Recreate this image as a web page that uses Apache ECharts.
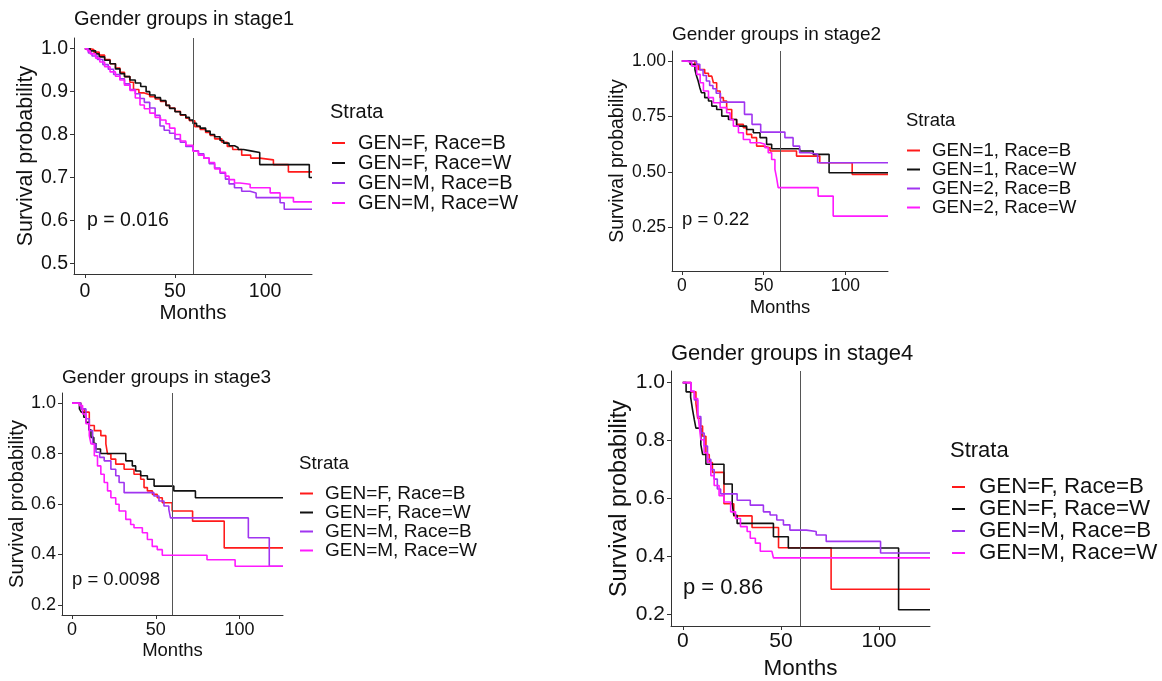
<!DOCTYPE html>
<html>
<head>
<meta charset="utf-8">
<script src="https://cdn.jsdelivr.net/npm/echarts@6/dist/echarts.min.js"></script>
<style>
  html, body { margin: 0; padding: 0; background: #fff; }
  #km { width: 1162px; height: 681px; }
</style>
</head>
<body>
<div id="km"></div>
<script>
// tick values
const xTicks = [0, 50, 100];
const yTicks1 = [0.5, 0.6, 0.7, 0.8, 0.9, 1.0];
const yTicks2 = [0.25, 0.5, 0.75, 1.0];
const yTicks3 = [0.2, 0.4, 0.6, 0.8, 1.0];
const yTicks4 = [0.2, 0.4, 0.6, 0.8, 1.0];

const strataFM = ['GEN=F, Race=B', 'GEN=F, Race=W', 'GEN=M, Race=B', 'GEN=M, Race=W'];
const strata12 = ['GEN=1, Race=B', 'GEN=1, Race=W', 'GEN=2, Race=B', 'GEN=2, Race=W'];
const panelTitles = ['Gender groups in stage1', 'Gender groups in stage2', 'Gender groups in stage3', 'Gender groups in stage4'];
const pValues = ['p = 0.016', 'p = 0.22', 'p = 0.0098', 'p = 0.86'];
const cutoffMonth = 60;

// [months, survival] — stage 1
const s1FB = [[0,1],[3,0.998],[5,0.992],[8,0.985],[11,0.975],[14,0.965],[17,0.955],[19.5,0.945],[22,0.935],[25,0.922],[27,0.905],[30,0.897],[33,0.893],[36,0.888],[39,0.883],[42,0.877],[45,0.868],[47,0.862],[50,0.854],[53,0.845],[56,0.838],[58,0.832],[61,0.818],[64,0.812],[67,0.805],[69.5,0.798],[72,0.79],[76,0.782],[79,0.772],[82,0.765],[87,0.752],[92,0.745],[97,0.741],[104.6,0.73],[112.9,0.713],[126,0.713]];
const s1FW = [[0,1],[3,0.995],[6,0.988],[8,0.981],[11,0.973],[14,0.965],[17,0.953],[19.5,0.942],[22,0.935],[25,0.927],[28,0.92],[31,0.912],[34,0.9],[36,0.892],[39,0.886],[42,0.879],[45,0.868],[47,0.861],[50,0.853],[53,0.846],[56,0.84],[58,0.834],[60,0.826],[62,0.82],[64,0.815],[67,0.808],[69.5,0.8],[72,0.795],[75,0.786],[77,0.78],[80,0.774],[83,0.77],[85,0.765],[88,0.762],[92,0.758],[97,0.73],[124.5,0.70],[126,0.70]];
const s1MB = [[0,1],[2,0.99],[4,0.983],[7,0.975],[10,0.963],[13,0.952],[16,0.94],[19.4,0.93],[22,0.918],[25,0.905],[28,0.895],[30.6,0.884],[33,0.875],[36,0.862],[39,0.845],[41.7,0.82],[44,0.81],[47,0.803],[50,0.79],[53,0.782],[56,0.772],[60,0.762],[63,0.755],[66,0.745],[69,0.732],[72,0.722],[75,0.71],[78,0.696],[80,0.685],[83,0.676],[87,0.668],[91.7,0.664],[95,0.653],[108.3,0.641],[110.6,0.626],[126,0.626]];
const s1MW = [[0,1],[1.5,0.995],[3,0.988],[6,0.978],[8.3,0.969],[11,0.958],[14,0.946],[17,0.936],[19.4,0.927],[22,0.915],[25,0.903],[28,0.885],[30.6,0.869],[33,0.86],[36,0.85],[39,0.84],[42,0.834],[45,0.825],[47,0.815],[50,0.8],[53,0.785],[56,0.775],[60,0.761],[63,0.752],[66,0.745],[69,0.735],[72,0.72],[75,0.712],[78,0.703],[80,0.695],[83,0.687],[86,0.684],[91.7,0.676],[102.8,0.664],[108.3,0.653],[115.7,0.643],[126,0.643]];

// stage 2
const s2_1B = [[0,1],[8,0.985],[10,0.962],[14,0.945],[16.3,0.932],[18.3,0.925],[19.3,0.902],[21.3,0.865],[23.4,0.835],[25.4,0.82],[27.4,0.782],[30.5,0.737],[33.5,0.715],[37.6,0.70],[39.6,0.67],[42.7,0.655],[45.7,0.617],[49.8,0.61],[53.9,0.595],[70.1,0.572],[84.3,0.542],[104.1,0.49],[126,0.49]];
const s2_1W = [[0,1],[5,0.985],[8,0.962],[9,0.932],[10,0.91],[11,0.88],[12,0.857],[14,0.835],[16.3,0.82],[18.3,0.797],[21.3,0.782],[24.4,0.752],[28.5,0.737],[33.5,0.707],[39.6,0.692],[43.7,0.677],[47.8,0.655],[51.8,0.625],[54.9,0.605],[72,0.595],[80.3,0.58],[90,0.497],[126,0.497]];
const s2_2B = [[0,1],[9,0.985],[11,0.96],[13,0.935],[15,0.91],[17,0.89],[19,0.875],[21,0.855],[23.6,0.815],[38.3,0.76],[42.9,0.715],[48.2,0.68],[63,0.655],[68,0.617],[72,0.587],[78,0.58],[83,0.542],[126,0.542]];
const s2_2W = [[0,1],[3,0.992],[6.1,0.977],[9.1,0.94],[11.2,0.902],[13.2,0.865],[16.3,0.835],[19.3,0.812],[23.4,0.79],[27.4,0.767],[29.5,0.737],[31.5,0.707],[34.6,0.677],[37.6,0.647],[41.7,0.632],[47.8,0.625],[50.8,0.61],[52.8,0.587],[54.9,0.557],[56.9,0.512],[57.9,0.475],[58.9,0.43],[83.3,0.392],[92.5,0.302],[126,0.302]];

// stage 3
const s3FB = [[0,1],[5.3,0.977],[7.3,0.964],[10.3,0.911],[13.3,0.891],[17.2,0.871],[20.2,0.838],[21.2,0.798],[23.2,0.778],[26.1,0.758],[31.1,0.738],[37,0.718],[41,0.698],[43,0.665],[45,0.652],[48,0.638],[50.9,0.625],[53.9,0.605],[59.8,0.572],[72,0.532],[90.9,0.426],[126,0.426]];
const s3FW = [[0,1],[4.4,0.977],[5.5,0.964],[7,0.944],[8.3,0.924],[10,0.894],[11.3,0.864],[13,0.84],[14.3,0.818],[17,0.80],[32.1,0.771],[36,0.751],[38,0.731],[41,0.712],[45,0.698],[49,0.671],[60.8,0.652],[73.7,0.625],[126,0.625]];
const s3MB = [[0,1],[5.3,0.977],[8.3,0.938],[10.3,0.891],[12.3,0.838],[14.3,0.805],[16.5,0.785],[19.2,0.771],[23.2,0.738],[26.1,0.712],[28.1,0.685],[31.1,0.645],[48.9,0.632],[51.9,0.612],[54.9,0.592],[57.8,0.579],[58.8,0.545],[105.3,0.466],[117.8,0.353],[126,0.353]];
const s3MW = [[0,1],[4.4,0.99],[6.3,0.957],[8.3,0.918],[10.3,0.871],[11.3,0.838],[13.3,0.791],[15.2,0.751],[17.2,0.718],[19.2,0.685],[21.2,0.652],[23.2,0.625],[26.1,0.599],[28.1,0.572],[32.1,0.539],[35,0.519],[37,0.506],[42,0.486],[45,0.459],[47.9,0.432],[50.9,0.419],[53.9,0.397],[80.6,0.379],[97.4,0.353],[126,0.353]];

// stage 4
const s4FB = [[0,1],[4.2,0.968],[6.7,0.928],[7.6,0.877],[9,0.85],[10.1,0.815],[11.8,0.752],[13.5,0.724],[15.1,0.69],[21,0.582],[26,0.54],[35.3,0.50],[48.8,0.43],[75.6,0.287],[126,0.287]];
const s4FW = [[0,1],[1.7,0.968],[4,0.95],[5,0.906],[5.9,0.871],[6.7,0.843],[9.2,0.786],[10.1,0.752],[11.8,0.718],[21,0.65],[25.2,0.582],[26,0.542],[27.7,0.514],[46.2,0.468],[53.8,0.429],[110,0.216],[126,0.216]];
const s4MB = [[0,1],[4.2,0.97],[5.9,0.94],[7.6,0.883],[9.2,0.826],[10.9,0.781],[12.6,0.735],[14.3,0.70],[16,0.667],[17.6,0.633],[19.3,0.616],[27.7,0.594],[34.4,0.577],[41.1,0.554],[44.5,0.543],[47.9,0.526],[51.3,0.509],[54.6,0.491],[63,0.486],[68,0.474],[73.1,0.452],[100.8,0.412],[126,0.412]];
const s4MW = [[0,1],[4.2,0.97],[5.9,0.945],[7.6,0.9],[8.4,0.85],[9.2,0.803],[10.9,0.758],[12.6,0.724],[14.3,0.679],[16,0.645],[18.5,0.61],[21,0.588],[24.4,0.554],[26.9,0.531],[29.4,0.503],[32.8,0.486],[34.4,0.463],[37,0.446],[39.5,0.418],[45.4,0.412],[46.2,0.395],[126,0.395]];

const FONT = '"Liberation Sans", Arial, sans-serif';
const TXT = '#111';
const colors = ['#ff1a1a', '#111111', '#a035f0', '#ff1aff'];

// layout of each panel (pixels)
let panels = [
  { grid: { left: 74, top: 38, width: 238, height: 236 }, yMin: 0.475, yMax: 1.025, yTicks: yTicks1, dec: 1,
    fs: 19.5, xNameFs: 20.5, yNameFs: 21.5, titleFs: 20, titleTop: 9, nameGapY: 36, nameGapX: 29, labMarginX: 8,
    p: { left: 87, top: 211, fs: 19.5 }, strata: strataFM, data: [s1FB, s1FW, s1MB, s1MW],
    legend: { left: 332, top: 133, fs: 20, lh: 20, pad: 8 }, strataTitle: { left: 330, top: 102, fs: 20 } },
  { grid: { left: 672, top: 51, width: 216, height: 220 }, yMin: 0.055, yMax: 1.045, yTicks: yTicks2, dec: 2,
    fs: 17.5, xNameFs: 18.5, yNameFs: 19.5, titleFs: 19, titleTop: 25, nameGapY: 44, nameGapX: 27, labMarginX: 6,
    p: { left: 682, top: 210, fs: 18.5 }, strata: strata12, data: [s2_1B, s2_1W, s2_2B, s2_2W],
    legend: { left: 907, top: 141, fs: 18.7, lh: 18, pad: 7 }, strataTitle: { left: 906, top: 111, fs: 18.5 } },
  { grid: { left: 62, top: 393, width: 221, height: 222 }, yMin: 0.16, yMax: 1.04, yTicks: yTicks3, dec: 1,
    fs: 18, xNameFs: 18.5, yNameFs: 20, titleFs: 19, titleTop: 368, nameGapY: 33, nameGapX: 26, labMarginX: 6,
    p: { left: 72, top: 570, fs: 18.5 }, strata: strataFM, data: [s3FB, s3FW, s3MB, s3MW],
    legend: { left: 300, top: 484, fs: 19, lh: 18, pad: 7 }, strataTitle: { left: 299, top: 454, fs: 18.7 } },
  { grid: { left: 671, top: 371, width: 259, height: 256 }, yMin: 0.16, yMax: 1.04, yTicks: yTicks4, dec: 1,
    fs: 21, xNameFs: 22.5, yNameFs: 23.5, titleFs: 22, titleTop: 343, nameGapY: 37, nameGapX: 31, labMarginX: 5,
    p: { left: 683, top: 577, fs: 22 }, strata: strataFM, data: [s4FB, s4FW, s4MB, s4MW],
    legend: { left: 952, top: 476, fs: 22.3, lh: 21, pad: 9 }, strataTitle: { left: 950, top: 440, fs: 22 } }
];

let chart = echarts.init(document.getElementById('km'), null, { renderer: 'canvas' });

let grid = [], xAxis = [], yAxis = [], series = [], title = [], legend = [];
panels.forEach((pn, i) => {
  grid.push(pn.grid);
  xAxis.push({
    gridIndex: i, type: 'value', min: -6, max: 126,
    name: 'Months', nameLocation: 'middle', nameGap: pn.nameGapX,
    nameTextStyle: { fontSize: pn.xNameFs, color: TXT, fontFamily: FONT },
    axisLine: { show: true, onZero: false, lineStyle: { color: '#333', width: 1 } },
    axisTick: { show: true, length: 4, customValues: xTicks, lineStyle: { color: '#333' } },
    axisLabel: { customValues: xTicks, margin: pn.labMarginX, fontSize: pn.fs, color: TXT, fontFamily: FONT },
    splitLine: { show: false }
  });
  yAxis.push({
    gridIndex: i, type: 'value', min: pn.yMin, max: pn.yMax,
    name: 'Survival probability', nameLocation: 'middle', nameGap: pn.nameGapY,
    nameTextStyle: { fontSize: pn.yNameFs, color: TXT, fontFamily: FONT },
    axisLine: { show: true, onZero: false, lineStyle: { color: '#333', width: 1 } },
    axisTick: { show: true, length: 4, customValues: pn.yTicks, lineStyle: { color: '#333' } },
    axisLabel: { customValues: pn.yTicks, margin: 6, fontSize: pn.fs, color: TXT, fontFamily: FONT,
      formatter: v => v.toFixed(pn.dec) },
    splitLine: { show: false }
  });
  pn.data.forEach((d, k) => {
    let s = {
      name: pn.strata[k], type: 'line', step: 'end', data: d,
      xAxisIndex: i, yAxisIndex: i, showSymbol: false, symbol: 'none',
      color: colors[k], lineStyle: { width: 1.6, color: colors[k] },
      z: 3 + k, animation: false
    };
    if (k === 0) {
      s.markLine = {
        silent: true, symbol: 'none', label: { show: false },
        lineStyle: { color: '#555', width: 1, type: 'solid' },
        data: [{ xAxis: cutoffMonth }]
      };
    }
    series.push(s);
  });
  title.push({ text: panelTitles[i], left: pn.grid.left, top: pn.titleTop, padding: 0,
    textStyle: { fontSize: pn.titleFs, fontWeight: 'normal', color: TXT, fontFamily: FONT } });
  title.push({ text: pValues[i], left: pn.p.left, top: pn.p.top, padding: 0,
    textStyle: { fontSize: pn.p.fs, fontWeight: 'normal', color: TXT, fontFamily: FONT } });
  title.push({ text: 'Strata', left: pn.strataTitle.left, top: pn.strataTitle.top, padding: 0,
    textStyle: { fontSize: pn.strataTitle.fs, fontWeight: 'normal', color: TXT, fontFamily: FONT } });
  legend.push({
    data: pn.strata, orient: 'vertical', left: pn.legend.left, top: pn.legend.top,
    padding: 0, itemGap: 0, icon: 'rect', itemWidth: 13, itemHeight: 2,
    selectedMode: false,
    textStyle: { fontSize: pn.legend.fs, lineHeight: pn.legend.lh, color: TXT, fontFamily: FONT,
      padding: [0, 0, 0, pn.legend.pad] }
  });
});

let options = {
  backgroundColor: '#fff',
  animation: false,
  title: title,
  legend: legend,
  grid: grid,
  xAxis: xAxis,
  yAxis: yAxis,
  series: series
};
chart.setOption(options);
</script>
</body>
</html>
